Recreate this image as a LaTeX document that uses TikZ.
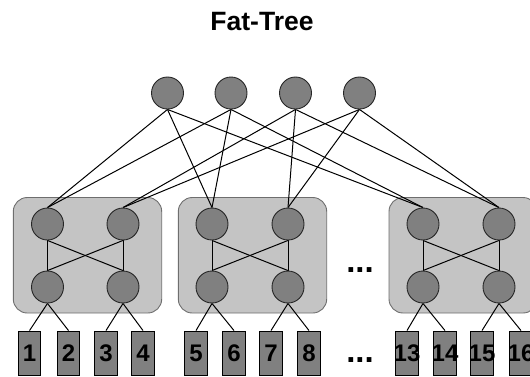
\documentclass[tikz,border=0pt]{standalone}
\usepackage{fontspec}
\setmainfont{Liberation Sans}
\definecolor{switchgray}{HTML}{808080}
\definecolor{podfill}{HTML}{C4C4C4}
\definecolor{podline}{HTML}{6E6E6E}
\pgfdeclarelayer{podlayer}
\pgfdeclarelayer{linklayer}
\pgfsetlayers{podlayer,linklayer,main}
\tikzset{
  switch/.style={circle, draw=black!85, fill=switchgray, minimum size=32pt, inner sep=0pt, line width=0.9pt},
  podbox/.style={draw=podline, fill=podfill, rounded corners=14pt, line width=0.9pt},
  host/.style={draw=black, fill=switchgray, minimum width=22.5pt, minimum height=44pt, inner sep=0pt, line width=0.9pt},
  hostlabel/.style={font=\bfseries\fontsize{24}{24}\selectfont, inner sep=0pt},
  link/.style={line width=1pt, draw=black},
  gapdots/.style={font=\bfseries\fontsize{33}{33}\selectfont, anchor=base, inner sep=0pt}
}
\begin{document}
\begin{tikzpicture}[x=1pt,y=-1pt]
\useasboundingbox (0,0) rectangle (530,376);
\clip (0,0) rectangle (530,376);

% title
\node[font=\bfseries\fontsize{26.5}{26.5}\selectfont, anchor=base] (title) at (262,30.7) {Fat-Tree};

% core switches
\node[switch] (c1) at (167.5,93) {};
\node[switch] (c2) at (231,93) {};
\node[switch] (c3) at (295.5,93) {};
\node[switch] (c4) at (359.5,93) {};

% pods: aggregation (a) and edge (e) switches
\foreach \p/\xa/\xb in {1/47.5/123, 2/212/288, 4/423/499} {
  \node[switch] (a\p1) at (\xa,224) {};
  \node[switch] (a\p2) at (\xb,224) {};
  \node[switch] (e\p1) at (\xa,287) {};
  \node[switch] (e\p2) at (\xb,287) {};
}

% hosts
\foreach \h/\x in {1/29.5, 2/68.5, 3/106, 4/143, 5/196, 6/234, 7/271, 8/309,
                   13/407, 14/445, 15/482, 16/521} {
  \node[host, label={[hostlabel]center:\h}] (h\h) at (\x,353) {};
}

% elided pod
\node[gapdots] (gap1) at (360,272) {...};
\node[gapdots] (gap2) at (360,362.5) {...};

% pod backgrounds
\begin{pgfonlayer}{podlayer}
  \draw[podbox] (13.3,197.5) rectangle (161.7,313);
  \draw[podbox] (178.3,197.5) rectangle (326.7,313);
  \draw[podbox] (389,197.5) rectangle (537,313);
\end{pgfonlayer}

% links
\begin{pgfonlayer}{linklayer}
  \foreach \c in {c1,c2} \foreach \p in {1,2,4}
    \draw[link] (\c.south) -- (a\p1.north);
  \foreach \c in {c3,c4} \foreach \p in {1,2,4}
    \draw[link] (\c.south) -- (a\p2.north);
  \foreach \p in {1,2,4} {
    \draw[link] (a\p1.south) -- (e\p1.north);
    \draw[link] (a\p1.south) -- (e\p2.north);
    \draw[link] (a\p2.south) -- (e\p1.north);
    \draw[link] (a\p2.south) -- (e\p2.north);
  }
  \foreach \e/\ha/\hb in {e11/1/2, e12/3/4, e21/5/6, e22/7/8, e41/13/14, e42/15/16} {
    \draw[link] (\e.south) -- (h\ha.north);
    \draw[link] (\e.south) -- (h\hb.north);
  }
\end{pgfonlayer}
\end{tikzpicture}
\end{document}
